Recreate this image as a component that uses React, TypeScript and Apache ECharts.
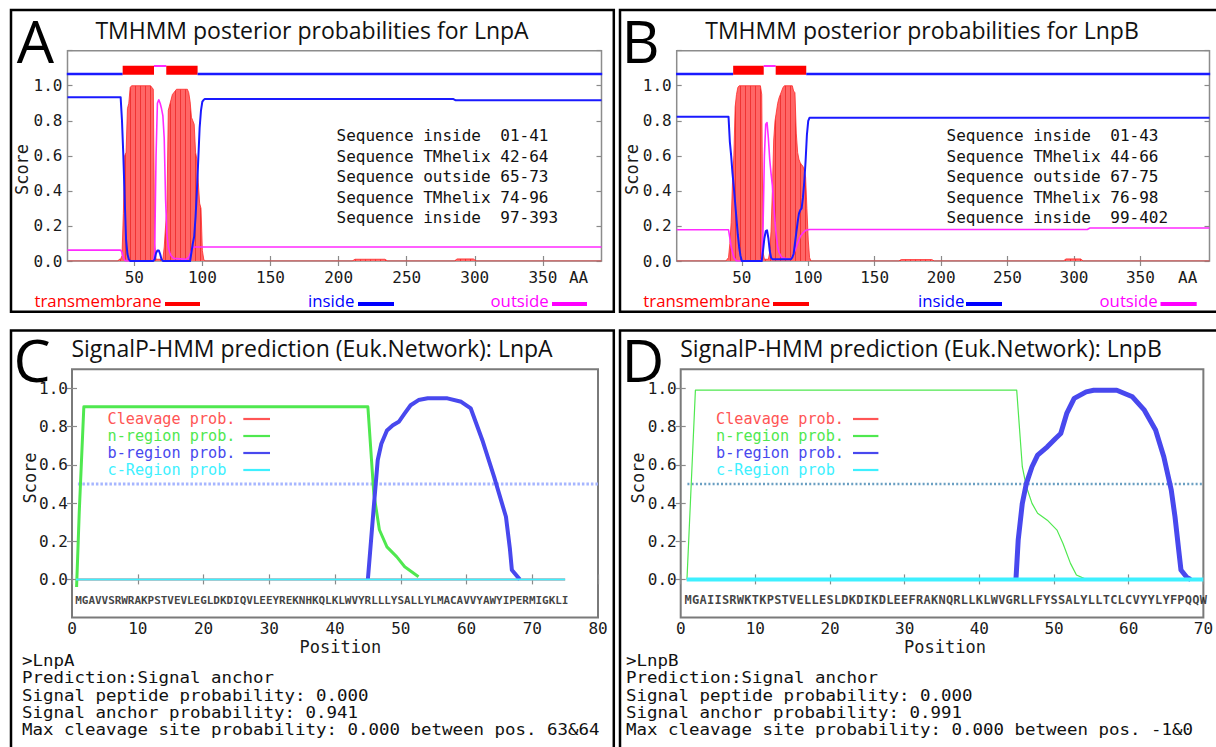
import React, { useEffect, useRef } from 'react';
import * as echarts from 'echarts';

// ================= DATA =================
// TMHMM (panels A, B)
const tmhmmTicks = [50, 100, 150, 200, 250, 300, 350];
const lnpALength = 393;
const lnpBLength = 402;

const lnpASegments: [string, number, number][] = [
  ['inside', 1, 41], ['TMhelix', 42, 64], ['outside', 65, 73], ['TMhelix', 74, 96], ['inside', 97, 393],
];
const lnpBSegments: [string, number, number][] = [
  ['inside', 1, 43], ['TMhelix', 44, 66], ['outside', 67, 75], ['TMhelix', 76, 98], ['inside', 99, 402],
];

const lnpATransmembrane: [number, number][] = [
  [1, 0], [38, 0], [39, 0.01], [40, 0.01], [41, 0.03], [42, 0.27], [43, 0.6], [44, 0.62], [45, 0.87], [46, 0.9],
  [47, 0.99], [48, 1], [62, 1], [63, 0.99], [64, 0.98], [65, 0.1], [66, 0.01], [71, 0.01], [72, 0.08], [73, 0.2],
  [74, 0.3], [75, 0.86], [76, 0.89], [77, 0.92], [78, 0.95], [79, 0.96], [80, 0.97], [81, 0.98], [89, 0.98],
  [90, 0.96], [91, 0.91], [92, 0.82], [93, 0.8], [94, 0.78], [95, 0.62], [96, 0.58], [97, 0.45], [98, 0.33],
  [99, 0.3], [100, 0.06], [101, 0.01], [102, 0], [210, 0], [212, 0.01], [234, 0.01], [236, 0], [285, 0],
  [287, 0.012], [299, 0.012], [301, 0], [393, 0],
];
const lnpAInside: [number, number][] = [
  [1, 0.935], [40, 0.935], [41, 0.8], [42, 0.6], [43, 0.35], [44, 0.12], [45, 0.04], [46, 0.01], [47, 0],
  [64, 0], [65, 0.01], [66, 0.045], [67, 0.06], [68, 0.06], [69, 0.04], [70, 0.01], [71, 0], [91, 0],
  [92, 0.05], [93, 0.1], [94, 0.14], [95, 0.25], [96, 0.4], [97, 0.58], [98, 0.76], [99, 0.86], [100, 0.91],
  [101, 0.92], [102, 0.925], [284, 0.925], [286, 0.917], [393, 0.917],
];
const lnpAOutside: [number, number][] = [
  [1, 0.062], [40, 0.062], [41, 0.05], [42, 0.02], [43, 0.005], [44, 0], [64, 0], [65, 0.05], [66, 0.6],
  [67, 0.9], [68, 0.92], [69, 0.9], [70, 0.87], [71, 0.83], [72, 0.7], [73, 0.35], [74, 0.15], [75, 0.08],
  [76, 0.05], [77, 0.03], [79, 0.015], [88, 0.01], [90, 0.02], [91, 0.04], [92, 0.06], [93, 0.075],
  [94, 0.08], [393, 0.08],
];

const lnpBTransmembrane: [number, number][] = [
  [1, 0], [38, 0], [39, 0.01], [40, 0.02], [41, 0.1], [42, 0.22], [43, 0.45], [44, 0.6], [45, 0.88], [46, 0.95],
  [47, 0.99], [48, 1], [64, 1], [65, 0.95], [66, 0.05], [67, 0.01], [70, 0.01], [71, 0.05], [72, 0.17],
  [73, 0.4], [74, 0.69], [75, 0.8], [76, 0.85], [77, 0.9], [78, 0.93], [79, 0.95], [80, 0.97], [81, 0.99],
  [82, 1], [88, 1], [89, 0.97], [90, 0.96], [91, 0.73], [92, 0.62], [93, 0.58], [94, 0.56], [95, 0.55],
  [96, 0.54], [97, 0.52], [98, 0.48], [99, 0.3], [100, 0.12], [101, 0.02], [102, 0], [168, 0], [170, 0.008],
  [193, 0.008], [195, 0], [292, 0], [294, 0.012], [305, 0.012], [307, 0], [402, 0],
];
const lnpBInside: [number, number][] = [
  [1, 0.823], [40, 0.823], [41, 0.68], [42, 0.6], [43, 0.5], [44, 0.42], [45, 0.33], [46, 0.24], [47, 0.15],
  [48, 0.08], [49, 0.03], [50, 0], [65, 0], [66, 0.06], [67, 0.13], [68, 0.17], [69, 0.175], [70, 0.13],
  [71, 0.06], [72, 0.02], [73, 0.01], [87, 0.01], [88, 0.02], [89, 0.04], [90, 0.1], [91, 0.16], [92, 0.22],
  [93, 0.27], [94, 0.29], [95, 0.3], [96, 0.36], [97, 0.45], [98, 0.57], [99, 0.72], [100, 0.8],
  [101, 0.818], [402, 0.818],
];
const lnpBOutside: [number, number][] = [
  [1, 0.178], [40, 0.178], [41, 0.13], [42, 0.08], [43, 0.05], [44, 0.02], [45, 0.01], [46, 0], [64, 0],
  [65, 0.01], [66, 0.2], [67, 0.6], [68, 0.78], [69, 0.79], [70, 0.7], [71, 0.58], [72, 0.5], [73, 0.43],
  [74, 0.33], [75, 0.22], [76, 0.14], [77, 0.08], [78, 0.05], [80, 0.02], [86, 0.01], [88, 0.02], [90, 0.06],
  [92, 0.1], [94, 0.14], [96, 0.16], [98, 0.175], [101, 0.18], [310, 0.18], [312, 0.188], [402, 0.188],
];

// SignalP-HMM (panels C, D)
const signalPTicksA = [0, 10, 20, 30, 40, 50, 60, 70, 80];
const signalPTicksB = [0, 10, 20, 30, 40, 50, 60, 70];
const scoreTicks = [0, 0.2, 0.4, 0.6, 0.8, 1.0];
const signalThreshold = 0.5;

const seqA = 'MGAVVSRWRAKPSTVEVLEGLDKDIQVLEEYREKNHKQLKLWVYRLLLYSALLYLMACAVVYAWYIPERMIGKLI';
const seqB = 'MGAIISRWKTKPSTVELLESLDKDIKDLEEFRAKNQRLLKLWVGRLLFYSSALYLLTCLCVYYLYFPQQW';

const cleavageA: [number, number][] = [[0.6, 0], [75, 0]];
const nRegionA: [number, number][] = [
  [0.7, -0.04], [1.1, 0.35], [1.8, 0.904], [45, 0.904], [45.9, 0.45], [46.75, 0.26], [47.9, 0.17],
  [49.4, 0.118], [50.6, 0.066], [52.7, 0.014],
];
const bRegionA: [number, number][] = [
  [45, 0], [45.9, 0.38], [46.5, 0.625], [47.05, 0.71], [47.9, 0.78], [48.8, 0.807], [49.7, 0.825],
  [50.6, 0.869], [51.5, 0.912], [52.7, 0.939], [54.1, 0.948], [57.1, 0.948], [59.2, 0.93], [60.65, 0.895],
  [62.4, 0.73], [64.2, 0.537], [66, 0.328], [66.6, 0.16], [66.9, 0.049], [68.1, 0],
];
const cRegionA: [number, number][] = [[0.6, 0], [75, 0]];

const cleavageB: [number, number][] = [[0.8, 0], [70, 0]];
const nRegionB: [number, number][] = [
  [0.84, 0], [1.97, 0.991], [45, 0.991], [45.75, 0.59], [46.3, 0.485], [47.05, 0.398], [47.8, 0.346],
  [49.1, 0.31], [50.4, 0.258], [51.2, 0.188], [52.2, 0.084], [53, 0.023], [54.3, 0],
];
const bRegionB: [number, number][] = [
  [44.9, 0], [45.2, 0.206], [45.75, 0.398], [46.3, 0.503], [47.05, 0.59], [47.8, 0.651], [49.1, 0.694],
  [50.2, 0.738], [50.9, 0.764], [51.7, 0.869], [52.7, 0.948], [54.3, 0.982], [55.3, 0.99], [58.4, 0.99],
  [60.5, 0.956], [62.1, 0.886], [63.6, 0.782], [64.7, 0.642], [65.7, 0.468], [66.2, 0.328], [66.7, 0.153],
  [67, 0.049], [67.8, 0.01], [68.3, 0],
];
const cRegionB: [number, number][] = [[0.8, 0], [70, 0]];

const summaryA = [
  '>LnpA',
  'Prediction:Signal anchor',
  'Signal peptide probability: 0.000',
  'Signal anchor probability: 0.941',
  'Max cleavage site probability: 0.000 between pos. 63&64',
];
const summaryB = [
  '>LnpB',
  'Prediction:Signal anchor',
  'Signal peptide probability: 0.000',
  'Signal anchor probability: 0.991',
  'Max cleavage site probability: 0.000 between pos. -1&0',
];

// ================= STYLE / LAYOUT =================
const W = 1216;
const H = 747;
const SANS = '"Open Sans", "Noto Sans", sans-serif';
const MONO = '"DejaVu Sans Mono", monospace';
const NB = '\u00a0';

const C_TM = '#ff2a2a';
const C_TM_FILL = '#ff6666';
const C_IN = '#1a1aff';
const C_OUT = '#ff2bff';

const C_CLEAV = '#ff5555';
const C_N = '#4fe84f';
const C_B = '#4848ee';
const C_C = '#3ef0ff';

const grids = [
  { left: 67.5, top: 50.7, width: 534, height: 210.3 },
  { left: 676.7, top: 50.7, width: 532.8, height: 210.3 },
  { left: 72, top: 369.3, width: 526, height: 248.3 },
  { left: 680.7, top: 369.3, width: 525.7, height: 248.3 },
];

function stripeFill(): any {
  try {
    const c = document.createElement('canvas');
    c.width = 5;
    c.height = 4;
    const g = c.getContext('2d');
    if (!g) return C_TM_FILL;
    g.fillStyle = C_TM_FILL;
    g.fillRect(0, 0, 5, 4);
    g.fillStyle = '#f03333';
    g.fillRect(0, 0, 1, 4);
    return { image: c, repeat: 'repeat' };
  } catch (e) {
    return C_TM_FILL;
  }
}

function buildOption() {
  const xAxis: any[] = [];
  const yAxis: any[] = [];
  const series: any[] = [];
  const elements: any[] = [];
  const tmFill = stripeFill();

  const tickStyle = { inside: true, length: 5, lineStyle: { color: '#8a8a8a', width: 1.2 } };

  // --- axes for TMHMM panels ---
  const tmAxes = (gi: number, len: number) => {
    const base = {
      gridIndex: gi, type: 'value', min: 1, max: len, splitNumber: 8,
      splitLine: { show: false }, axisLine: { show: false },
    };
    xAxis.push({
      ...base, position: 'bottom',
      axisTick: { ...tickStyle, customValues: tmhmmTicks },
      axisLabel: {
        customValues: tmhmmTicks, fontFamily: MONO, fontSize: 16, color: '#1a1a1a', margin: 8,
      },
    });
    xAxis.push({
      ...base, position: 'top',
      axisTick: { ...tickStyle, customValues: tmhmmTicks },
      axisLabel: { show: false },
    });
    const ybase = {
      gridIndex: gi, type: 'value', min: 0, max: 1.2, interval: 0.2,
      splitLine: { show: false }, axisLine: { show: false },
    };
    yAxis.push({
      ...ybase, position: 'left', axisTick: tickStyle,
      axisLabel: {
        fontFamily: MONO, fontSize: 16, color: '#1a1a1a', margin: 5,
        formatter: (v: number) => (v > 1.05 ? '' : v.toFixed(1)),
      },
    });
    yAxis.push({ ...ybase, position: 'right', axisTick: tickStyle, axisLabel: { show: false } });
  };

  const spAxes = (gi: number, maxX: number, ticks: number[]) => {
    const base = {
      gridIndex: gi, type: 'value', min: 0, max: maxX, interval: 10,
      splitLine: { show: false }, axisLine: { show: false },
    };
    xAxis.push({
      ...base, position: 'bottom',
      axisTick: { ...tickStyle, customValues: ticks },
      axisLabel: { customValues: ticks, fontFamily: MONO, fontSize: 16, color: '#1a1a1a', margin: 3 },
    });
    xAxis.push({
      ...base, position: 'top',
      axisTick: { ...tickStyle, customValues: ticks },
      axisLabel: { show: false },
    });
    const ybase = {
      gridIndex: gi, type: 'value', min: -0.2, max: 1.1,
      splitLine: { show: false }, axisLine: { show: false },
    };
    yAxis.push({
      ...ybase, position: 'left',
      axisTick: { ...tickStyle, customValues: scoreTicks },
      axisLabel: {
        customValues: scoreTicks, fontFamily: MONO, fontSize: 16, color: '#1a1a1a', margin: 4,
        formatter: (v: number) => v.toFixed(1),
      },
    });
    yAxis.push({
      ...ybase, position: 'right',
      axisTick: { ...tickStyle, customValues: scoreTicks },
      axisLabel: { show: false },
    });
  };

  tmAxes(0, lnpALength);
  tmAxes(1, lnpBLength);
  spAxes(2, 80, signalPTicksA);
  spAxes(3, 70, signalPTicksB);

  const line = (gi: number, data: any[], color: string, width: number, extra: any = {}) => ({
    type: 'line', xAxisIndex: gi * 2, yAxisIndex: gi * 2, data, showSymbol: false, symbol: 'none',
    silent: true, lineStyle: { color, width, cap: 'butt', join: 'round' }, ...extra,
  });

  // --- TMHMM series ---
  const tmPanel = (gi: number, tm: any[], inside: any[], outside: any[], segs: [string, number, number][]) => {
    series.push(line(gi, tm, C_TM, 0.8, { areaStyle: { color: tmFill, opacity: 1 }, z: 2 }));
    series.push(line(gi, outside, C_OUT, 1.6, { z: 3 }));
    series.push(line(gi, inside, C_IN, 2, { z: 4 }));
    segs.forEach(([t, s, e]) => {
      const y = t === 'inside' ? 1.067 : t === 'TMhelix' ? 1.088 : 1.112;
      const col = t === 'inside' ? C_IN : t === 'TMhelix' ? '#ff0000' : C_OUT;
      const w = t === 'inside' ? 2.5 : t === 'TMhelix' ? 9 : 2;
      series.push(line(gi, [[s - 0.5, y], [e + 0.5, y]], col, w, { z: 5 }));
    });
  };
  tmPanel(0, lnpATransmembrane, lnpAInside, lnpAOutside, lnpASegments);
  tmPanel(1, lnpBTransmembrane, lnpBInside, lnpBOutside, lnpBSegments);

  // --- SignalP series ---
  const spPanel = (
    gi: number, maxX: number, seq: string, cleav: any[], nr: any[], br: any[], cr: any[],
    st: { n: number; b: number; c: number; dot: string; dotW: number; dash: number[]; seqFont: number },
  ) => {
    series.push(line(gi, [[0.9, signalThreshold], [maxX, signalThreshold]], st.dot, st.dotW, {
      lineStyle: { color: st.dot, width: st.dotW, type: st.dash, cap: 'butt' }, z: 2,
    }));
    series.push(line(gi, cleav, C_CLEAV, 2, { z: 2 }));
    series.push(line(gi, nr, C_N, st.n, { z: 3 }));
    series.push(line(gi, br, C_B, st.b, { z: 4 }));
    series.push(line(gi, cr, C_C, st.c, { z: 5 }));
    series.push({
      type: 'scatter', xAxisIndex: gi * 2, yAxisIndex: gi * 2, silent: true, z: 6,
      symbol: 'circle', symbolSize: 1, itemStyle: { color: 'rgba(0,0,0,0)' },
      data: seq.split('').map((ch, i) => [i + 1, -0.11, ch]),
      label: {
        show: true, position: 'inside', formatter: (p: any) => p.data[2],
        fontFamily: MONO, fontWeight: 'bold', fontSize: st.seqFont, color: '#111',
      },
    });
  };
  spPanel(2, 80, seqA, cleavageA, nRegionA, bRegionA, cRegionA,
    { n: 3, b: 4, c: 2, dot: '#a6b6ff', dotW: 3, dash: [2.5, 2], seqFont: 11 });
  spPanel(3, 70, seqB, cleavageB, nRegionB, bRegionB, cRegionB,
    { n: 1.2, b: 5, c: 4, dot: '#6a9fc2', dotW: 2.5, dash: [2, 2.2], seqFont: 12 });

  // --- Graphic decorations ---
  const txt = (x: number, y: number, text: string, font: string, size: number, fill: string,
    align = 'left', extra: any = {}) => ({
    type: 'text', x, y, z: 100, silent: true, ...extra,
    style: { text, fontFamily: font, fontSize: size, fill, align, verticalAlign: 'middle', ...(extra.style || {}) },
  });
  const seg = (x1: number, y: number, x2: number, color: string, w: number) => ({
    type: 'line', z: 100, silent: true, shape: { x1, y1: y, x2, y2: y }, style: { stroke: color, lineWidth: w },
  });

  // boxes
  [
    [11, 10, 613.8, 311.7], [620, 10, 1224, 311.7], [11, 330.5, 613.8, 770], [620, 330.5, 1224, 770],
  ].forEach(([x1, y1, x2, y2]) => elements.push({
    type: 'rect', z: 100, silent: true, shape: { x: x1, y: y1, width: x2 - x1, height: y2 - y1 },
    style: { fill: 'none', stroke: '#000', lineWidth: 2.5 },
  }));

  // panel letters
  elements.push(txt(35.5, 39.5, 'A', SANS, 59, '#000', 'center'));
  elements.push(txt(621.5, 39.5, 'B', SANS, 59, '#000', 'left'));
  elements.push(txt(13.5, 358.5, 'C', SANS, 59, '#000', 'left'));
  elements.push(txt(621.5, 358.5, 'D', SANS, 59, '#000', 'left'));

  // titles
  elements.push(txt(312, 29.5, 'TMHMM posterior probabilities for LnpA', SANS, 23, '#111', 'center'));
  elements.push(txt(922, 29.5, 'TMHMM posterior probabilities for LnpB', SANS, 23, '#111', 'center'));
  elements.push(txt(312, 347.5, 'SignalP-HMM prediction (Euk.Network): LnpA', SANS, 23, '#111', 'center'));
  elements.push(txt(921, 347.5, 'SignalP-HMM prediction (Euk.Network): LnpB', SANS, 23, '#111', 'center'));

  // Score labels
  const score = (x: number, y: number) => txt(x, y, 'Score', MONO, 17, '#1a1a1a', 'center', { rotation: Math.PI / 2 });
  elements.push(score(22, 169.5));
  elements.push(score(631.8, 169.5));
  elements.push(score(30, 478));
  elements.push(score(638, 478));

  // Position labels
  elements.push(txt(340.4, 646.5, 'Position', MONO, 17, '#1a1a1a', 'center'));
  elements.push(txt(945, 646.5, 'Position', MONO, 17, '#1a1a1a', 'center'));

  // AA labels
  elements.push(txt(578.6, 277, 'AA', MONO, 16, '#1a1a1a', 'center'));
  elements.push(txt(1187.7, 277, 'AA', MONO, 16, '#1a1a1a', 'center'));

  // TMHMM sequence tables
  const fmtRange = (s: number, e: number) => `${String(s).padStart(2, '0')}-${String(e).padStart(2, '0')}`;
  const table = (x: number, segs: [string, number, number][]) => segs.forEach(([t, s, e], i) => {
    elements.push(txt(x, 135.8 + i * 20.5, `Sequence${NB}${t.padEnd(8, NB)}${fmtRange(s, e)}`, MONO, 16, '#111'));
  });
  table(336.5, lnpASegments);
  table(946.5, lnpBSegments);

  // TMHMM legends
  const tmLegend = (items: [string, string, number, number, number][]) => items.forEach(([label, color, tx, l1, l2]) => {
    elements.push(txt(tx, 300.6, label, SANS, 16.8, color));
    elements.push(seg(l1, 304, l2, color, 4));
  });
  tmLegend([
    ['transmembrane', '#ff0000', 34.5, 165, 200],
    ['inside', '#0000ff', 308, 358, 394],
    ['outside', '#ff00ff', 490.5, 552, 587],
  ]);
  tmLegend([
    ['transmembrane', '#ff0000', 643.3, 773, 809],
    ['inside', '#0000ff', 918, 966, 1002],
    ['outside', '#ff00ff', 1099.5, 1160.5, 1196.7],
  ]);

  // SignalP legends
  const spLegend = (tx: number, l1: number, l2: number) => [
    ['Cleavage prob.', C_CLEAV], ['n-region prob.', C_N], ['b-region prob.', C_B], ['c-Region prob', C_C],
  ].forEach(([label, color], i) => {
    elements.push(txt(tx, 418.5 + i * 17, label, MONO, 15.2, color));
    elements.push(seg(l1, 419 + i * 17, l2, color, 2.2));
  });
  spLegend(107.5, 243.3, 270);
  spLegend(716, 853, 878.4);

  // summaries (slightly widened monospace so lines don't collide)
  const sumSize = 16.4;
  const sumScale = 10.5 / (0.602 * sumSize);
  summaryA.forEach((s, i) => elements.push(txt(22, 660.5 + i * 17.1, s, MONO, sumSize, '#111', 'left', { scaleX: sumScale })));
  summaryB.forEach((s, i) => elements.push(txt(626, 660.5 + i * 17.1, s, MONO, sumSize, '#111', 'left', { scaleX: sumScale })));

  return {
    animation: false,
    backgroundColor: '#ffffff',
    grid: grids.map((g, i) => ({
      ...g, show: true, backgroundColor: 'transparent',
      borderColor: i < 2 ? '#8c8c8c' : '#7a7a7a', borderWidth: i < 2 ? 1.5 : 2,
    })),
    xAxis,
    yAxis,
    series,
    graphic: { elements },
  };
}

export default function App() {
  const ref = useRef<HTMLDivElement>(null);
  useEffect(() => {
    const chart = echarts.init(ref.current!, null, { renderer: 'svg', width: W, height: H });
    chart.setOption(buildOption() as any);
    return () => chart.dispose();
  }, []);
  return (
    <div
      ref={ref}
      style={{ position: 'fixed', left: 0, top: 0, width: W, height: H, background: '#fff' }}
    />
  );
}
